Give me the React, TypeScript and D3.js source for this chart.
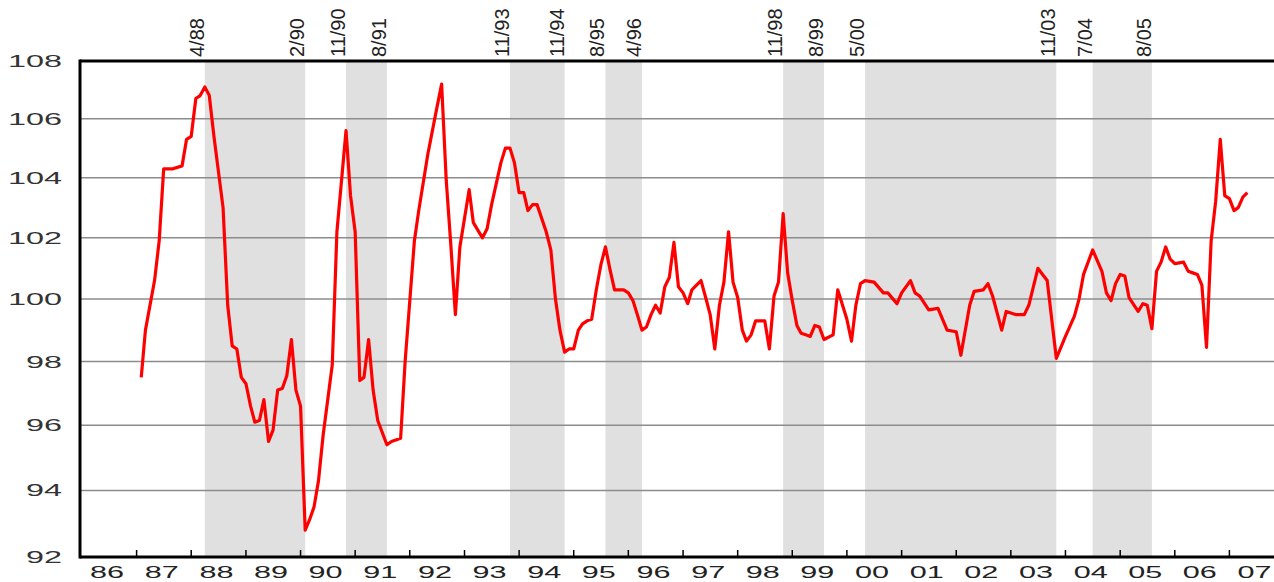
import React, { useRef, useEffect } from 'react';
import * as d3 from 'd3';

const width = 1274;
const height = 582;

const yTicks = [92, 94, 96, 98, 100, 102, 104, 106, 108];
const gridValues = [94, 96, 98, 100, 102, 104, 106];
const yearLabels = ['86', '87', '88', '89', '90', '91', '92', '93', '94', '95', '96',
  '97', '98', '99', '00', '01', '02', '03', '04', '05', '06', '07'];

// peak / trough dates, shaded in pairs
const turningLabels = ['4/88', '2/90', '11/90', '8/91', '11/93', '11/94', '8/95', '4/96',
  '11/98', '8/99', '5/00', '11/03', '7/04', '8/05'];

const series: [string, number][] = [
  ['1987-02', 97.5], ['1987-03', 99.0], ['1987-05', 100.6], ['1987-06', 101.9], ['1987-07', 104.3],
  ['1987-09', 104.3], ['1987-11', 104.4], ['1987-12', 105.3],
  ['1988-01', 105.4], ['1988-02', 106.7], ['1988-03', 106.8], ['1988-04', 107.1], ['1988-05', 106.8],
  ['1988-06', 105.4], ['1988-08', 103.0], ['1988-09', 99.8], ['1988-10', 98.5], ['1988-11', 98.4],
  ['1988-12', 97.5],
  ['1989-01', 97.3], ['1989-02', 96.6], ['1989-03', 96.1], ['1989-04', 96.15], ['1989-05', 96.8],
  ['1989-06', 95.5], ['1989-07', 95.85], ['1989-08', 97.1], ['1989-09', 97.15], ['1989-10', 97.55],
  ['1989-11', 98.7], ['1989-12', 97.1],
  ['1990-01', 96.6], ['1990-02', 92.8], ['1990-03', 93.1], ['1990-04', 93.5], ['1990-05', 94.3],
  ['1990-06', 95.7], ['1990-08', 97.9], ['1990-09', 102.2], ['1990-11', 105.6], ['1990-12', 103.4],
  ['1991-01', 102.2], ['1991-02', 97.4], ['1991-03', 97.5], ['1991-04', 98.7], ['1991-05', 97.1],
  ['1991-06', 96.15], ['1991-08', 95.4], ['1991-09', 95.5], ['1991-11', 95.6], ['1991-12', 98.0],
  ['1992-02', 101.9], ['1992-03', 102.9], ['1992-05', 104.8], ['1992-07', 106.4], ['1992-08', 107.2],
  ['1992-09', 103.9], ['1992-10', 101.8], ['1992-11', 99.5], ['1992-12', 101.7],
  ['1993-02', 103.6], ['1993-03', 102.5], ['1993-05', 102.0], ['1993-06', 102.3], ['1993-07', 103.1],
  ['1993-09', 104.5], ['1993-10', 105.0], ['1993-11', 105.0], ['1993-12', 104.5],
  ['1994-01', 103.5], ['1994-02', 103.5], ['1994-03', 102.9], ['1994-04', 103.1], ['1994-05', 103.1],
  ['1994-07', 102.2], ['1994-08', 101.6], ['1994-09', 100.0], ['1994-10', 99.0], ['1994-11', 98.3],
  ['1994-12', 98.4],
  ['1995-01', 98.4], ['1995-02', 99.0], ['1995-03', 99.2], ['1995-04', 99.3], ['1995-05', 99.35],
  ['1995-06', 100.3], ['1995-07', 101.1], ['1995-08', 101.7], ['1995-09', 100.95], ['1995-10', 100.3],
  ['1995-12', 100.3],
  ['1996-01', 100.2], ['1996-02', 99.95], ['1996-03', 99.5], ['1996-04', 99.0], ['1996-05', 99.1],
  ['1996-06', 99.5], ['1996-07', 99.8], ['1996-08', 99.55], ['1996-09', 100.4], ['1996-10', 100.7],
  ['1996-11', 101.85], ['1996-12', 100.4],
  ['1997-01', 100.2], ['1997-02', 99.85], ['1997-03', 100.3], ['1997-04', 100.45], ['1997-05', 100.6],
  ['1997-06', 100.05], ['1997-07', 99.5], ['1997-08', 98.4], ['1997-09', 99.8], ['1997-10', 100.55],
  ['1997-11', 102.2], ['1997-12', 100.55],
  ['1998-01', 100.05], ['1998-02', 99.0], ['1998-03', 98.65], ['1998-04', 98.85], ['1998-05', 99.3],
  ['1998-06', 99.3], ['1998-07', 99.3], ['1998-08', 98.4], ['1998-09', 100.1], ['1998-10', 100.55],
  ['1998-11', 102.8], ['1998-12', 100.85],
  ['1999-01', 99.95], ['1999-02', 99.15], ['1999-03', 98.9], ['1999-04', 98.85], ['1999-05', 98.8],
  ['1999-06', 99.15], ['1999-07', 99.1], ['1999-08', 98.7], ['1999-10', 98.85], ['1999-11', 100.3],
  ['2000-01', 99.35], ['2000-02', 98.65], ['2000-03', 99.8], ['2000-04', 100.5], ['2000-05', 100.6],
  ['2000-07', 100.55], ['2000-09', 100.2], ['2000-10', 100.2], ['2000-12', 99.85],
  ['2001-01', 100.2], ['2001-03', 100.6], ['2001-04', 100.2], ['2001-05', 100.1], ['2001-07', 99.65],
  ['2001-09', 99.7], ['2001-11', 99.0],
  ['2002-01', 98.95], ['2002-02', 98.2], ['2002-04', 99.8], ['2002-05', 100.25], ['2002-07', 100.3],
  ['2002-08', 100.5], ['2002-09', 100.1], ['2002-11', 99.0], ['2002-12', 99.6],
  ['2003-02', 99.5], ['2003-04', 99.5], ['2003-05', 99.8], ['2003-07', 101.0], ['2003-08', 100.8],
  ['2003-09', 100.6], ['2003-11', 98.1],
  ['2004-01', 98.8], ['2004-03', 99.45], ['2004-04', 100.0], ['2004-05', 100.8], ['2004-07', 101.6],
  ['2004-09', 100.9], ['2004-10', 100.2], ['2004-11', 99.95], ['2004-12', 100.5],
  ['2005-01', 100.8], ['2005-02', 100.75], ['2005-03', 100.05], ['2005-05', 99.6], ['2005-06', 99.85],
  ['2005-07', 99.8], ['2005-08', 99.05], ['2005-09', 100.9], ['2005-10', 101.2], ['2005-11', 101.7],
  ['2005-12', 101.3],
  ['2006-01', 101.15], ['2006-03', 101.2], ['2006-04', 100.9], ['2006-05', 100.85], ['2006-06', 100.8],
  ['2006-07', 100.45], ['2006-08', 98.45], ['2006-09', 101.9], ['2006-10', 103.2], ['2006-11', 105.3],
  ['2006-12', 103.4],
  ['2007-01', 103.3], ['2007-02', 102.9], ['2007-03', 103.0], ['2007-04', 103.35], ['2007-05', 103.5],
];

const parseMonth = d3.timeParse('%Y-%m');
const parseTurn = (s: string) => {
  const [m, yy] = s.split('/').map(Number);
  return new Date(yy < 50 ? 2000 + yy : 1900 + yy, m - 1, 1);
};

const font = '"Liberation Sans", Arial, sans-serif';

const Chart = () => {
  const svgRef = useRef<SVGSVGElement>(null);

  useEffect(() => {
    const margin = { top: 61, left: 80, bottom: 557 };

    const svg = d3.select(svgRef.current);
    svg.selectAll('*').remove();

    const x = d3.scaleTime()
      .domain([new Date(1986, 0, 1), new Date(2008, 0, 1)])
      .range([82, 1284]);

    const y = d3.scaleLog()
      .domain([92, 108])
      .range([margin.bottom, margin.top]);

    // shaded periods
    const turns = turningLabels.map(parseTurn);
    const bands = d3.range(0, turns.length, 2).map(i => [turns[i], turns[i + 1]]);
    svg.append('g')
      .selectAll('rect')
      .data(bands)
      .enter()
      .append('rect')
      .attr('x', d => x(d[0]))
      .attr('width', d => x(d[1]) - x(d[0]))
      .attr('y', margin.top)
      .attr('height', margin.bottom - margin.top)
      .style('fill', '#e0e0e0');

    // grid
    svg.append('g')
      .selectAll('line')
      .data(gridValues)
      .enter()
      .append('line')
      .attr('x1', margin.left)
      .attr('x2', width)
      .attr('y1', d => y(d))
      .attr('y2', d => y(d))
      .style('stroke', '#8c8c8c')
      .style('stroke-width', 1.5);

    // series
    const line = d3.line<[string, number]>()
      .x(d => x(parseMonth(d[0]) as Date))
      .y(d => y(d[1]));

    svg.append('path')
      .datum(series)
      .attr('d', line)
      .style('fill', 'none')
      .style('stroke', '#ff0000')
      .style('stroke-width', 3.2)
      .style('stroke-linejoin', 'round');

    // frame
    const frame = svg.append('g').style('stroke', '#000').style('stroke-width', 3);
    frame.append('line')
      .attr('x1', margin.left).attr('x2', margin.left)
      .attr('y1', margin.top - 1.5).attr('y2', margin.bottom + 1.5);
    frame.append('line')
      .attr('x1', margin.left).attr('x2', width)
      .attr('y1', margin.top).attr('y2', margin.top);
    frame.append('line')
      .attr('x1', margin.left).attr('x2', width)
      .attr('y1', margin.bottom).attr('y2', margin.bottom);

    // year ticks
    const years = d3.range(1987, 2008).map(yr => new Date(yr, 0, 1));
    svg.append('g')
      .selectAll('line')
      .data(years)
      .enter()
      .append('line')
      .attr('x1', d => x(d))
      .attr('x2', d => x(d))
      .attr('y1', margin.bottom)
      .attr('y2', margin.bottom - 7)
      .style('stroke', '#000')
      .style('stroke-width', 1.5);

    // year labels
    svg.append('g')
      .selectAll('text')
      .data(yearLabels)
      .enter()
      .append('text')
      .attr('x', (d, i) => x(new Date(1986 + i, 6, 1)) - 19)
      .attr('y', 578)
      .attr('textLength', 34)
      .attr('lengthAdjust', 'spacingAndGlyphs')
      .style('font-family', font)
      .style('font-size', '16px')
      .style('fill', '#222')
      .text(d => d);

    // y labels
    svg.append('g')
      .selectAll('text')
      .data(yTicks)
      .enter()
      .append('text')
      .attr('x', d => 62 - String(d).length * 18)
      .attr('y', d => y(d) + 6)
      .attr('textLength', d => String(d).length * 18)
      .attr('lengthAdjust', 'spacingAndGlyphs')
      .style('font-family', font)
      .style('font-size', '17px')
      .style('fill', '#333')
      .text(d => d);

    // turning point labels
    svg.append('g')
      .selectAll('text')
      .data(turningLabels)
      .enter()
      .append('text')
      .attr('transform', (d, i) => `translate(${x(turns[i]) - 1},57) rotate(-90)`)
      .style('font-family', font)
      .style('font-size', '20px')
      .style('fill', '#222')
      .text(d => d);
  }, []);

  return (
    <svg
      ref={svgRef}
      width={width}
      height={height}
      style={{ position: 'absolute', left: 0, top: 0, background: '#fff' }}
    />
  );
};

export default function App() {
  return <Chart />;
}
